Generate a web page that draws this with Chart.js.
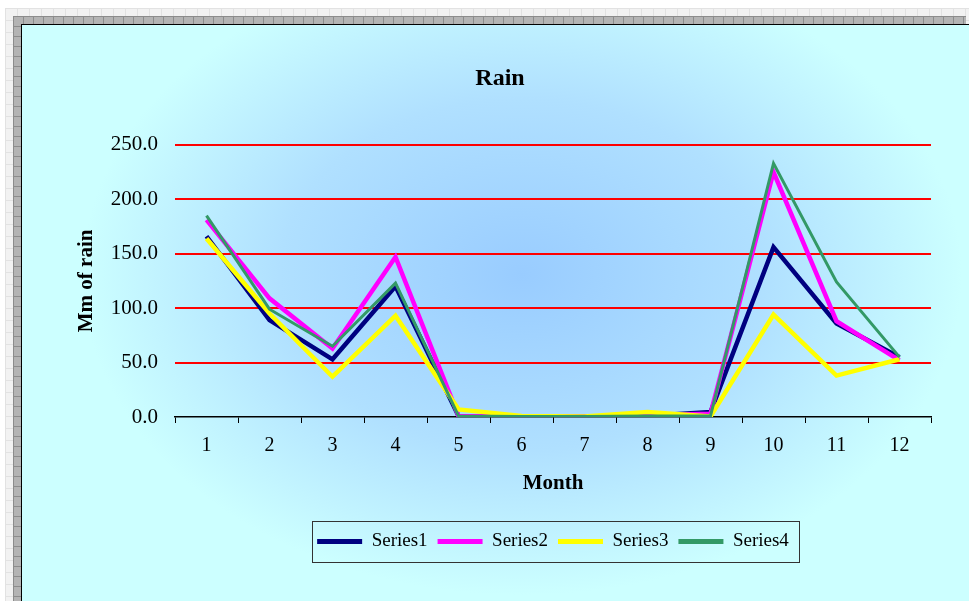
<!DOCTYPE html>
<html>
<head>
<meta charset="utf-8">
<script src="https://cdn.jsdelivr.net/npm/chart.js@4.4.1/dist/chart.umd.min.js"></script>
<style>
  html, body { margin: 0; padding: 0; background: #fff; overflow: hidden; }
  body { width: 969px; height: 601px; position: relative; }
  .sheet {
    position: absolute; left: 5px; top: 8px; right: 0; bottom: 0;
    background-color: #f2f2f2;
    background-image:
      linear-gradient(to right, #e2e2e2 1px, transparent 1px),
      linear-gradient(to bottom, #e2e2e2 1px, transparent 1px);
    background-size: 12px 12px;
  }
  .hatch {
    position: absolute; left: 13px; top: 16px; right: 3px; bottom: 0;
    background-color: #b4b4b4;
    background-image:
      linear-gradient(to right, #8c8c8c 1px, transparent 1px),
      linear-gradient(to bottom, #8c8c8c 1px, transparent 1px);
    background-size: 10px 10px;
  }
  .frame {
    position: absolute; left: 21px; top: 24px; width: 948px; height: 577px;
    border-left: 1px solid #000; border-top: 1px solid #000;
    background: radial-gradient(ellipse 440px 320px at 500px 250px, #99ccff 0%, #b0e0ff 55%, #ccffff 100%);
  }
  #linechart { position: absolute; left: 0; top: 0; }
</style>
</head>
<body>
<div class="sheet"></div>
<div class="hatch"></div>
<div class="frame">
  <canvas id="linechart" width="947" height="576"></canvas>
</div>
<script>
const months = ["1", "2", "3", "4", "5", "6", "7", "8", "9", "10", "11", "12"];
const series1 = [166, 89, 53, 120, 1, 0.5, 0.5, 1, 4.5, 156, 86, 55];
const series2 = [181, 109, 63, 147, 1, 0.5, 0.5, 1.5, 3, 225, 88, 52];
const series3 = [164, 95, 37, 93, 7, 1, 0.5, 4.5, 0.5, 94, 38, 53];
const series4 = [185, 99, 65, 123, 1, 0.5, 0.5, 1, 1, 233, 124, 55];
const yTicks = [0, 50, 100, 150, 200, 250];

const serif = "'Liberation Serif', 'Times New Roman', serif";

// box round the legend, like the Excel one
const legendBox = {
  id: "legendBox",
  afterDraw(chart) {
    const lg = chart.legend;
    if (!lg || !lg.legendHitBoxes.length) return;
    const boxes = lg.legendHitBoxes;
    const left = Math.min(...boxes.map((b) => b.left)) - 5;
    const right = Math.max(...boxes.map((b) => b.left + b.width)) + 10;
    const top = Math.min(...boxes.map((b) => b.top)) - 11;
    const bottom = Math.max(...boxes.map((b) => b.top + b.height)) + 11;
    const ctx = chart.ctx;
    ctx.save();
    ctx.strokeStyle = "#333";
    ctx.lineWidth = 1;
    ctx.strokeRect(Math.round(left) + 0.5, Math.round(top) + 0.5, Math.round(right - left), Math.round(bottom - top));
    ctx.restore();
  },
};

const lctx = document.getElementById("linechart");

function line(label, data, color, width, order) {
  return {
    label: label,
    data: data,
    borderColor: color,
    backgroundColor: color,
    borderWidth: width,
    pointRadius: 0,
    tension: 0,
    fill: false,
    order: order,
  };
}

new Chart(lctx, {
  type: "line",
  data: {
    labels: months,
    datasets: [
      line("Series1", series1, "#000080", 4.5, 4),
      line("Series2", series2, "#ff00ff", 4.5, 3),
      line("Series3", series3, "#ffff00", 4.5, 2),
      line("Series4", series4, "#339966", 3, 1),
    ],
  },
  options: {
    responsive: false,
    animation: false,
    layout: { padding: { left: 9, right: 0, top: 0, bottom: 40 } },
    plugins: {
      title: {
        display: true,
        text: "Rain",
        color: "#000",
        font: { family: serif, size: 24, weight: "bold" },
        padding: { top: 39, bottom: 52 },
      },
      legend: {
        position: "bottom",
        fullSize: false,
        labels: {
          color: "#000",
          font: { family: serif, size: 19 },
          boxWidth: 45,
          boxHeight: 5,
          padding: 10,
          sort: (a, b) => a.datasetIndex - b.datasetIndex,
          generateLabels(chart) {
            const items = Chart.defaults.plugins.legend.labels.generateLabels(chart);
            return items.map((it) => ({ ...it, lineWidth: 0, strokeStyle: "rgba(0,0,0,0)" }));
          },
        },
      },
      tooltip: { enabled: false },
    },
    scales: {
      x: {
        offset: true,
        afterFit(scale) {
          scale.height = 105;
        },
        border: { display: true, color: "#000", width: 1.5 },
        grid: {
          offset: true,
          drawOnChartArea: false,
          drawTicks: true,
          tickLength: 6,
          color: "#000",
        },
        ticks: {
          color: "#000",
          font: { family: serif, size: 20 },
          padding: 11,
          maxRotation: 0,
        },
        title: {
          display: true,
          text: "Month",
          color: "#000",
          font: { family: serif, size: 21, weight: "bold" },
          padding: { top: 0, bottom: 26 },
        },
      },
      y: {
        min: 0,
        max: 250,
        afterBuildTicks(scale) {
          scale.ticks = yTicks.map((v) => ({ value: v }));
        },
        afterFit(scale) {
          scale.width = 144;
        },
        border: { display: false },
        grid: {
          drawTicks: false,
          lineWidth: 2,
          color: (c) => (c.tick && c.tick.value === 0 ? "rgba(0,0,0,0)" : "#ff0000"),
        },
        ticks: {
          color: "#000",
          font: { family: serif, size: 21 },
          padding: 17,
          callback: (v) => Number(v).toFixed(1),
        },
        title: {
          display: true,
          text: "Mm of rain",
          color: "#000",
          font: { family: serif, size: 21, weight: "bold" },
          padding: { top: 43, bottom: 0 },
        },
      },
      // empty right axis only to keep space at the right of the plot
      yRight: {
        position: "right",
        display: true,
        afterFit(scale) {
          scale.width = 38;
        },
        border: { display: false },
        grid: { display: false, drawTicks: false },
        ticks: { display: false },
      },
    },
  },
  plugins: [legendBox],
});
</script>
</body>
</html>
